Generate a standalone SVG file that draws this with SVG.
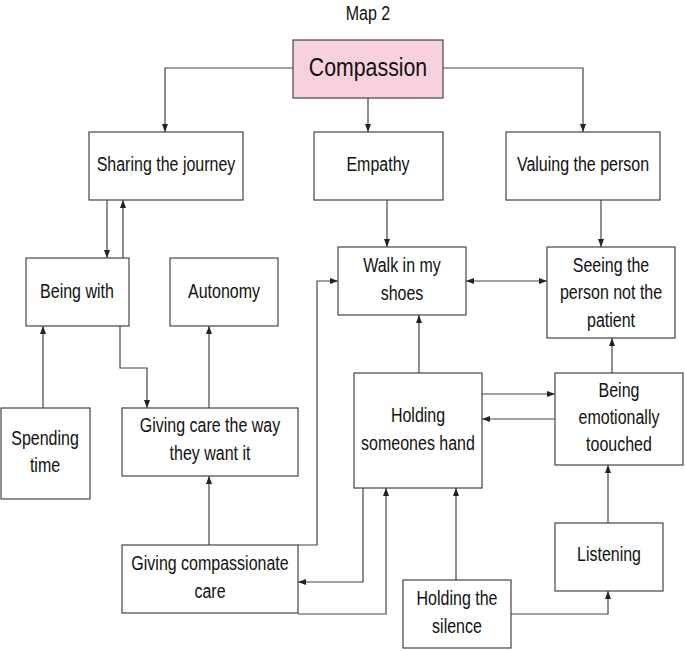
<svg xmlns="http://www.w3.org/2000/svg" width="685" height="651" viewBox="0 0 685 651">
<style>
.box{fill:#ffffff;stroke:#444444;stroke-width:1.2}
.pink{fill:#f9d1de;stroke:#444444;stroke-width:1.2}
text{font-family:"Liberation Sans",Arial,sans-serif;font-size:19.5px;fill:#111111;text-anchor:middle}
.big{font-size:26px}
.c{fill:none;stroke:#444444;stroke-width:1.2}
</style>
<defs>
<marker id="a" viewBox="0 0 8 6" refX="8" refY="3" markerWidth="8" markerHeight="6" markerUnits="userSpaceOnUse" orient="auto-start-reverse">
<path d="M0,0 L8,3 L0,6 z" fill="#222222"/>
</marker>
</defs>
<text transform="matrix(0.82 0 0 1 368 20)">Map 2</text>
<g id="connectors">
<path class="c" d="M293,68 H165 V132" marker-end="url(#a)"/>
<path class="c" d="M368,98 V132" marker-end="url(#a)"/>
<path class="c" d="M443,68 H583 V132" marker-end="url(#a)"/>
<path class="c" d="M107,200 V258" marker-end="url(#a)"/>
<path class="c" d="M123,258 V200" marker-end="url(#a)"/>
<path class="c" d="M120,326 V368 H147 V408" marker-end="url(#a)"/>
<path class="c" d="M43,408 V326" marker-end="url(#a)"/>
<path class="c" d="M209,408 V326" marker-end="url(#a)"/>
<path class="c" d="M209,545 V476" marker-end="url(#a)"/>
<path class="c" d="M387,200 V247" marker-end="url(#a)"/>
<path class="c" d="M601,200 V247" marker-end="url(#a)"/>
<path class="c" d="M466,281 H547" marker-start="url(#a)" marker-end="url(#a)"/>
<path class="c" d="M419,373 V315" marker-end="url(#a)"/>
<path class="c" d="M612,373 V338" marker-end="url(#a)"/>
<path class="c" d="M482,394 H555" marker-end="url(#a)"/>
<path class="c" d="M555,419 H482" marker-end="url(#a)"/>
<path class="c" d="M608,523 V465" marker-end="url(#a)"/>
<path class="c" d="M511,614 H608 V591" marker-end="url(#a)"/>
<path class="c" d="M456,580 V488" marker-end="url(#a)"/>
<path class="c" d="M298,545 H317 V281 H338" marker-end="url(#a)"/>
<path class="c" d="M363,488 V582 H298" marker-end="url(#a)"/>
<path class="c" d="M298,614 H386 V488" marker-end="url(#a)"/>
</g>
<g id="compassion"><rect class="pink" x="293" y="40" width="150" height="58"/><text class="big" transform="matrix(0.82 0 0 1 368 76)">Compassion</text></g>
<g id="sharing"><rect class="box" x="89" y="132" width="154" height="68"/><text transform="matrix(0.82 0 0 1 166 171)">Sharing the journey</text></g>
<g id="empathy"><rect class="box" x="314" y="132" width="129" height="68"/><text transform="matrix(0.82 0 0 1 378 171)">Empathy</text></g>
<g id="valuing"><rect class="box" x="506" y="132" width="154" height="68"/><text transform="matrix(0.82 0 0 1 583 171)">Valuing the person</text></g>
<g id="beingwith"><rect class="box" x="26" y="258" width="103" height="68"/><text transform="matrix(0.82 0 0 1 77 298)">Being with</text></g>
<g id="autonomy"><rect class="box" x="170" y="258" width="108" height="68"/><text transform="matrix(0.82 0 0 1 224 298)">Autonomy</text></g>
<g id="walk"><rect class="box" x="338" y="247" width="128" height="68"/><text transform="matrix(0.82 0 0 1 402 272)">Walk in my</text><text transform="matrix(0.82 0 0 1 402 300)">shoes</text></g>
<g id="seeing"><rect class="box" x="547" y="247" width="128" height="91"/><text transform="matrix(0.82 0 0 1 611 272)">Seeing the</text><text transform="matrix(0.82 0 0 1 611 299)">person not the</text><text transform="matrix(0.82 0 0 1 611 327)">patient</text></g>
<g id="spending"><rect class="box" x="1" y="408" width="89" height="91"/><text transform="matrix(0.82 0 0 1 45 445)">Spending</text><text transform="matrix(0.82 0 0 1 45 472)">time</text></g>
<g id="givingcare"><rect class="box" x="122" y="408" width="176" height="68"/><text transform="matrix(0.82 0 0 1 210 432)">Giving care the way</text><text transform="matrix(0.82 0 0 1 210 460)">they want it</text></g>
<g id="holdinghand"><rect class="box" x="354" y="373" width="128" height="115"/><text transform="matrix(0.82 0 0 1 418 422)">Holding</text><text transform="matrix(0.82 0 0 1 418 450)">someones hand</text></g>
<g id="emotionally"><rect class="box" x="555" y="373" width="128" height="92"/><text transform="matrix(0.82 0 0 1 619 397)">Being</text><text transform="matrix(0.82 0 0 1 619 424)">emotionally</text><text transform="matrix(0.82 0 0 1 619 451)">toouched</text></g>
<g id="listening"><rect class="box" x="555" y="523" width="108" height="68"/><text transform="matrix(0.82 0 0 1 609 561)">Listening</text></g>
<g id="givingcomp"><rect class="box" x="122" y="545" width="176" height="68"/><text transform="matrix(0.82 0 0 1 210 570)">Giving compassionate</text><text transform="matrix(0.82 0 0 1 210 598)">care</text></g>
<g id="silence"><rect class="box" x="403" y="580" width="108" height="68"/><text transform="matrix(0.82 0 0 1 457 605)">Holding the</text><text transform="matrix(0.82 0 0 1 457 633)">silence</text></g>
</svg>
